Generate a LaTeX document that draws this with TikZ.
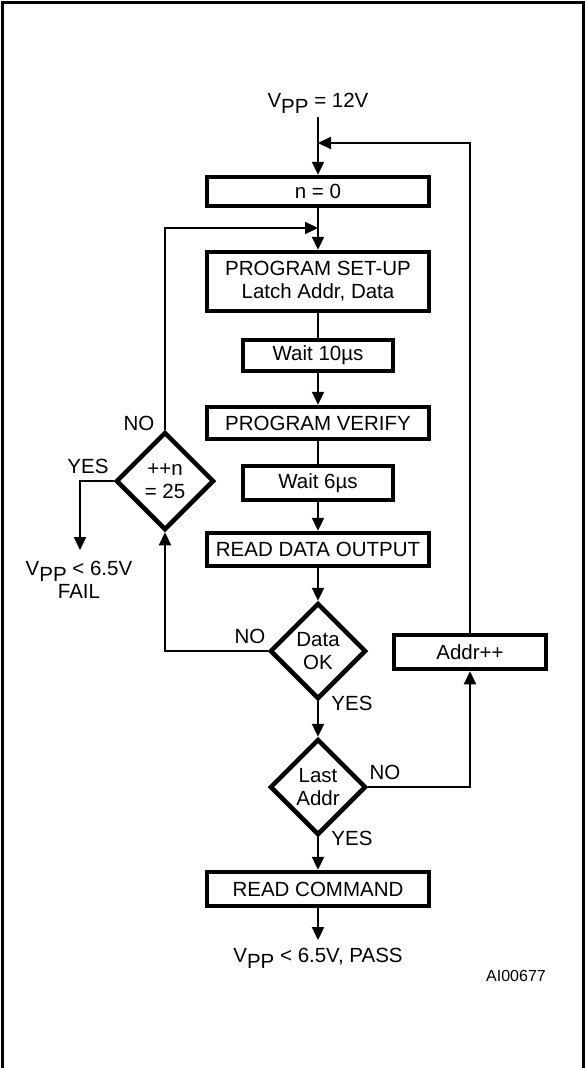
\documentclass[tikz,border=0pt]{standalone}
\usepackage{fontspec}
\setmainfont{Liberation Sans}
\usetikzlibrary{arrows.meta,shapes.geometric}
\newcommand{\vpp}{V\smash{\raisebox{-6pt}{PP}}}
\begin{document}
\begin{tikzpicture}[x=1pt,y=-1pt,font=\fontsize{20.5}{23}\selectfont,
  box/.style={draw,line width=4.5pt,inner sep=0pt,align=center},
  test/.style={draw,diamond,line width=4.5pt,minimum size=96pt,inner sep=0pt,align=center},
  link/.style={line width=2.3pt},
  arr/.style={link,-{Triangle[length=13pt,width=12pt]}}]
\useasboundingbox (0,0) rectangle (585,1068);
\draw[line width=3pt] (2,2) rectangle (583,1100);
\node[anchor=base] (vin) at (318,107) {\vpp{} = 12V};
\node[box,minimum width=222pt,minimum height=29pt] (n0) at (318,191.5) {n = 0};
\node[box,minimum width=222pt,minimum height=59pt] (setup) at (318,281.5) {PROGRAM SET-UP\\Latch Addr, Data};
\node[box,minimum width=150pt,minimum height=31pt] (w10) at (318,355.5) {Wait 10µs};
\node[box,minimum width=222pt,minimum height=32pt] (verify) at (318,423) {PROGRAM VERIFY};
\node[box,minimum width=150pt,minimum height=34pt] (w6) at (318,483) {Wait 6µs};
\node[box,minimum width=222pt,minimum height=33pt] (rdout) at (318,549.5) {READ DATA OUTPUT};
\node[test] (dok) at (318,651) {Data\\OK};
\node[test] (last) at (318,787) {Last\\Addr};
\node[box,minimum width=222pt,minimum height=34pt] (rdcmd) at (318,889) {READ COMMAND};
\node[box,minimum width=152pt,minimum height=34pt] (ainc) at (470,652) {Addr++};
\node[test,minimum size=98pt] (ntest) at (165,481) {++n\\= 25};
\node[anchor=base] (pass) at (318,962) {\vpp{} < 6.5V, PASS};
\node[align=center] (fail) at (79,580) {\vpp{} < 6.5V\\FAIL};
\node (no1) at (139,423) {NO};
\node (yes1) at (88,466) {YES};
\node (no2) at (250,636) {NO};
\node (yes2) at (352,703) {YES};
\node (no3) at (385,772) {NO};
\node (yes3) at (352,838) {YES};
\node[font=\fontsize{16}{18}\selectfont] (code) at (516,976) {AI00677};
\coordinate (top) at (318,117);
\coordinate (j1) at (318,143);
\coordinate (j2) at (318,228);
\coordinate (out) at (318,940);
\coordinate (failend) at (80,550);
\draw[arr] (top) -- (n0.north);
\draw[arr] (ainc.north) |- (j1);
\draw[arr] (n0.south) -- (setup.north);
\draw[arr] (ntest.north) |- (j2);
\draw[link] (setup.south) -- (w10.north);
\draw[arr] (w10.south) -- (verify.north);
\draw[link] (verify.south) -- (w6.north);
\draw[arr] (w6.south) -- (rdout.north);
\draw[arr] (rdout.south) -- (dok.north);
\draw[arr] (dok.south) -- (last.north);
\draw[arr] (last.south) -- (rdcmd.north);
\draw[arr] (rdcmd.south) -- (out);
\draw[arr] (dok.west) -| (ntest.south);
\draw[arr] (last.east) -| (ainc.south);
\draw[arr] (ntest.west) -| (failend);
\end{tikzpicture}
\end{document}
